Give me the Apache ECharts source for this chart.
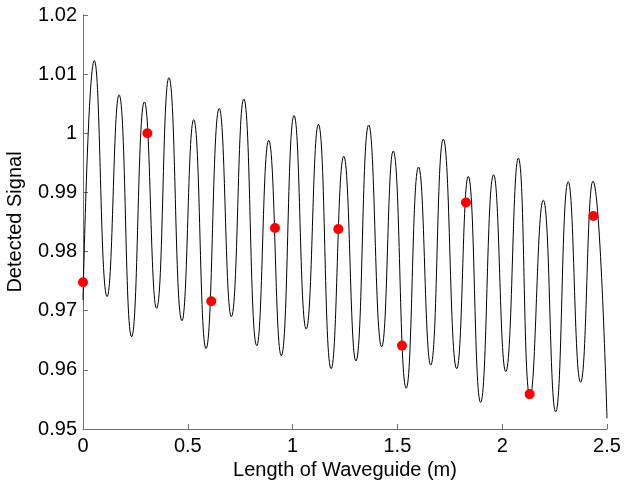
<!DOCTYPE html>
<html>
<head>
<meta charset="utf-8">
<script src="https://cdn.jsdelivr.net/npm/echarts@6/dist/echarts.min.js"></script>
<style>
html,body{margin:0;padding:0;background:#fff;}
#chart{width:627px;height:487px;}
</style>
</head>
<body>
<div id="chart"></div>
<script>
// Curve endpoints, peaks and troughs
var startPoint = [0, 0.9718];
var endPoint = [2.5, 0.9518];
var peakX = [0.054, 0.172, 0.293, 0.410, 0.528, 0.650, 0.767, 0.886, 1.007, 1.123, 1.244, 1.363, 1.480, 1.601, 1.719, 1.838, 1.959, 2.077, 2.196, 2.315, 2.433];
var peakY = [1.0123, 1.0065, 1.0053, 1.0094, 1.0023, 1.0042, 1.0058, 0.9988, 1.0030, 1.0015, 0.9961, 1.0014, 0.9970, 0.9943, 0.9990, 0.9927, 0.9930, 0.9958, 0.9887, 0.9918, 0.9919];
var troughX = [0.115, 0.232, 0.351, 0.472, 0.587, 0.708, 0.829, 0.946, 1.065, 1.184, 1.302, 1.425, 1.542, 1.659, 1.783, 1.897, 2.017, 2.133, 2.255, 2.374];
var troughY = [0.9724, 0.9656, 0.9704, 0.9683, 0.9636, 0.9690, 0.9641, 0.9624, 0.9669, 0.9602, 0.9615, 0.9639, 0.9569, 0.9608, 0.9602, 0.9545, 0.9597, 0.9554, 0.9529, 0.9579];
// Red sample points
var dotX = [0, 0.307, 0.612, 0.916, 1.218, 1.522, 1.827, 2.131, 2.435];
var dotY = [0.9748, 1.0000, 0.9716, 0.9840, 0.9838, 0.9641, 0.9883, 0.9559, 0.9860];
// Axis ticks
var xTicks = [0, 0.5, 1, 1.5, 2, 2.5];
var yTicks = [0.95, 0.96, 0.97, 0.98, 0.99, 1, 1.01, 1.02];

var curve = [startPoint];
peakX.forEach(function(x, i){ curve.push([x, peakY[i]]); });
troughX.forEach(function(x, i){ curve.push([x, troughY[i]]); });
curve.push(endPoint);
curve.sort(function(a, b){ return a[0] - b[0]; });
var dots = dotX.map(function(x, i){ return [x, dotY[i]]; });

var chart = echarts.init(document.getElementById('chart'), null, {renderer: 'canvas'});
var fontFam = 'Liberation Sans, Arial, sans-serif';
chart.setOption({
  animation: false,
  backgroundColor: '#fff',
  grid: {left: 83, right: 20, top: 15, bottom: 58, containLabel: false, outerBoundsMode: 'none'},
  xAxis: {
    type: 'value', min: xTicks[0], max: xTicks[xTicks.length - 1], interval: 0.5,
    name: 'Length of Waveguide (m)', nameLocation: 'middle', nameGap: 31,
    nameTextStyle: {color: '#000', fontSize: 20, fontFamily: fontFam},
    axisLine: {show: true, lineStyle: {color: '#6e6e6e', width: 1}},
    axisTick: {show: true, inside: true, length: 5, lineStyle: {color: '#6e6e6e'}},
    axisLabel: {color: '#000', fontSize: 20, fontFamily: fontFam, margin: 7,
      formatter: function(v){ return String(+v.toFixed(2)); }},
    splitLine: {show: false}
  },
  yAxis: {
    type: 'value', min: yTicks[0], max: yTicks[yTicks.length - 1], interval: 0.01,
    name: 'Detected Signal', nameLocation: 'middle', nameGap: 58,
    nameTextStyle: {color: '#000', fontSize: 20, fontFamily: fontFam},
    axisLine: {show: true, lineStyle: {color: '#6e6e6e', width: 1}},
    axisTick: {show: true, inside: true, length: 5, lineStyle: {color: '#6e6e6e'}},
    axisLabel: {color: '#000', fontSize: 20, fontFamily: fontFam, margin: 6,
      formatter: function(v){ return String(+v.toFixed(2)); }},
    splitLine: {show: false}
  },
  series: [
    {
      type: 'line', data: curve, smooth: 0.5, showSymbol: false, symbol: 'none',
      lineStyle: {color: '#000', width: 1}, z: 2
    },
    {
      type: 'scatter', data: dots, symbol: 'circle', symbolSize: 10,
      itemStyle: {color: '#ff0000', opacity: 1}, z: 3
    }
  ]
});
</script>
</body>
</html>
